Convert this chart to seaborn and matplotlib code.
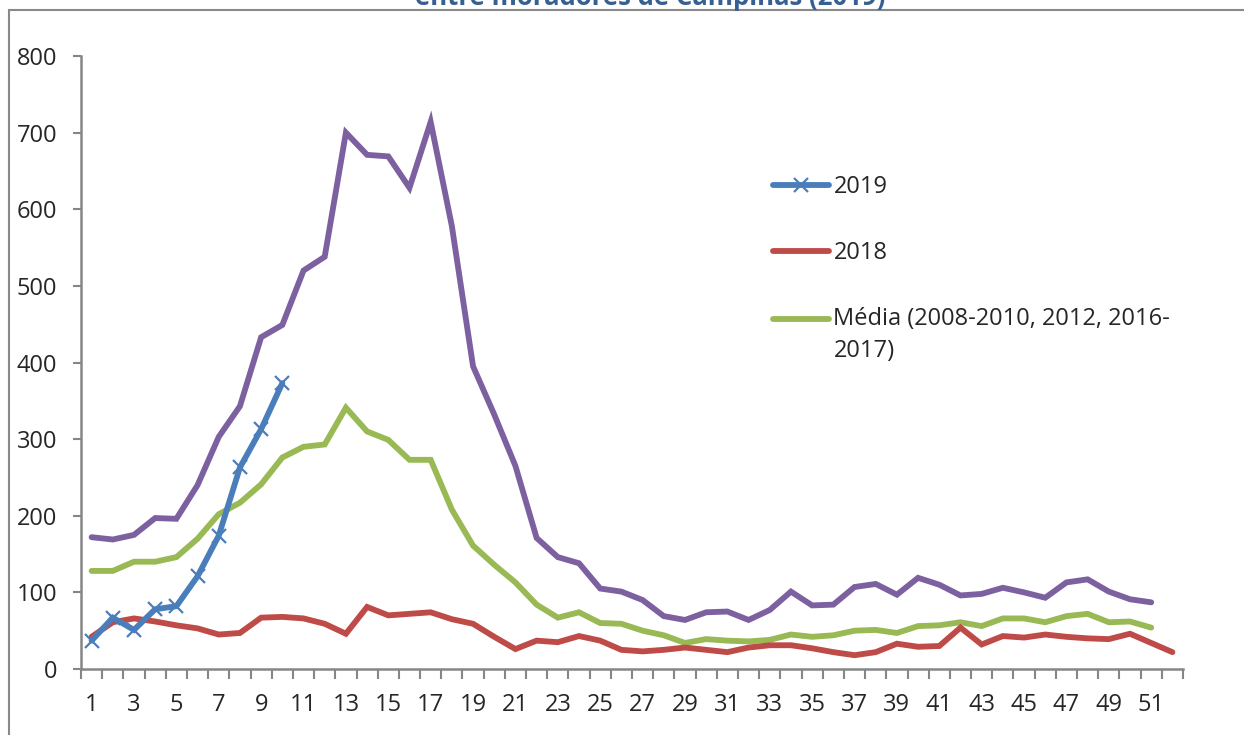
import numpy as np
import pandas as pd
import seaborn as sns
import matplotlib.pyplot as plt
from matplotlib.patches import Rectangle

# Weekly values
weeks_2019 = list(range(1, 11))
cases_2019 = [37, 67, 51, 78, 82, 121, 174, 263, 313, 373]

weeks_2018 = list(range(1, 53))
cases_2018 = [42, 61, 66, 62, 57, 53, 45, 47, 67, 68, 66, 59, 46, 81, 70, 72,
              74, 65, 59, 42, 26, 37, 35, 43, 37, 25, 23, 25, 28, 25, 22, 28,
              31, 31, 27, 22, 18, 22, 33, 29, 30, 54, 32, 43, 41, 45, 42, 40,
              39, 46, 34, 22]

weeks_avg = list(range(1, 52))
cases_avg = [128, 128, 140, 140, 146, 170, 202, 217, 241, 276, 290, 293, 341,
             310, 299, 273, 273, 208, 161, 136, 113, 84, 67, 74, 60, 59, 50,
             44, 34, 39, 37, 36, 38, 45, 42, 44, 50, 51, 47, 56, 57, 61, 56,
             66, 66, 61, 69, 72, 61, 62, 54]

weeks_upper = list(range(1, 52))
cases_upper = [172, 169, 175, 197, 196, 240, 303, 343, 433, 449, 520, 538, 700,
               671, 669, 628, 714, 578, 395, 332, 265, 171, 146, 138, 105, 101,
               90, 69, 64, 74, 75, 64, 77, 101, 83, 84, 107, 111, 97, 119, 110,
               96, 98, 106, 100, 93, 113, 117, 101, 91, 87]

series_labels = ['2019', '2018', 'Média (2008-2010, 2012, 2016-\n2017)']
colors = {'2019': '#4A7EBB', '2018': '#BE4B48', 'media': '#98B954', 'upper': '#7D60A0'}

sns.set_style('white')
plt.rcParams['font.family'] = ['Open Sans', 'DejaVu Sans']

fig = plt.figure(figsize=(12.44, 7.35), dpi=100)
ax = fig.add_axes([81 / 1244, 1 - 669 / 735, (1183 - 81) / 1244, (669 - 56) / 735])

lw = 4.2
line_kw = dict(lw=lw, solid_capstyle='round', solid_joinstyle='miter')
sns.lineplot(x=weeks_upper, y=cases_upper, ax=ax, color=colors['upper'], **line_kw)
sns.lineplot(x=weeks_avg, y=cases_avg, ax=ax, color=colors['media'],
             label=series_labels[2], **line_kw)
sns.lineplot(x=weeks_2018, y=cases_2018, ax=ax, color=colors['2018'],
             label=series_labels[1], **line_kw)
sns.lineplot(x=weeks_2019, y=cases_2019, ax=ax, color=colors['2019'],
             marker='x', markersize=10, markeredgewidth=1.6,
             markeredgecolor=colors['2019'], label=series_labels[0], **line_kw)

ax.set_xlim(0.5, 52.5)
ax.set_ylim(0, 800)
ax.set_yticks(np.arange(0, 801, 100))
ax.set_xticks(np.arange(0.5, 53, 1))
ax.set_xticklabels([])
ax.set_xticks(np.arange(1, 52, 2), minor=True)
ax.set_xticklabels([str(w) for w in range(1, 52, 2)], minor=True)

axis_grey = '#868686'
for side in ['top', 'right']:
    ax.spines[side].set_visible(False)
for side in ['left', 'bottom']:
    ax.spines[side].set_color(axis_grey)
    ax.spines[side].set_linewidth(1.8)

fs = 17
ax.tick_params(axis='y', which='major', direction='out', length=6, width=1.5,
               color=axis_grey, labelsize=fs, pad=11, left=True)
ax.tick_params(axis='x', which='major', direction='out', length=7, width=1.5,
               color=axis_grey, bottom=True)
ax.tick_params(axis='x', which='minor', length=0, labelsize=fs, pad=17)
ax.set_xlabel('')
ax.set_ylabel('')

# legend in the reference order
handles, labels = ax.get_legend_handles_labels()
order = [labels.index(l) for l in series_labels]
leg = ax.legend([handles[i] for i in order], [labels[i] for i in order],
                loc='upper left', bbox_to_anchor=(752 / 1244, 1 - 154 / 735),
                bbox_transform=fig.transFigure, frameon=False, fontsize=fs,
                handlelength=2.35, handletextpad=0.2, labelspacing=1.78)
leg.get_texts()[2].set_linespacing(1.4)
# the wrapped label keeps its key level with the first line, as in Excel
green_key = leg.legend_handles[2]
green_key.set_ydata(np.asarray(green_key.get_ydata()) + 0.7 * fs)

# outer chart frame and clipped title, as in the source image
fig.patches.append(Rectangle((9 / 1244, -0.05), 1.2, 1 - 10 / 735 + 0.05,
                             transform=fig.transFigure, fill=False,
                             edgecolor='#898989', lw=1.5))
fig.text(650 / 1244, 1 - 5 / 735, 'entre moradores de Campinas (2019)',
         ha='center', va='baseline', fontsize=18.5, fontweight='bold', color='#376092')

fig.savefig('out.png', dpi=100)
